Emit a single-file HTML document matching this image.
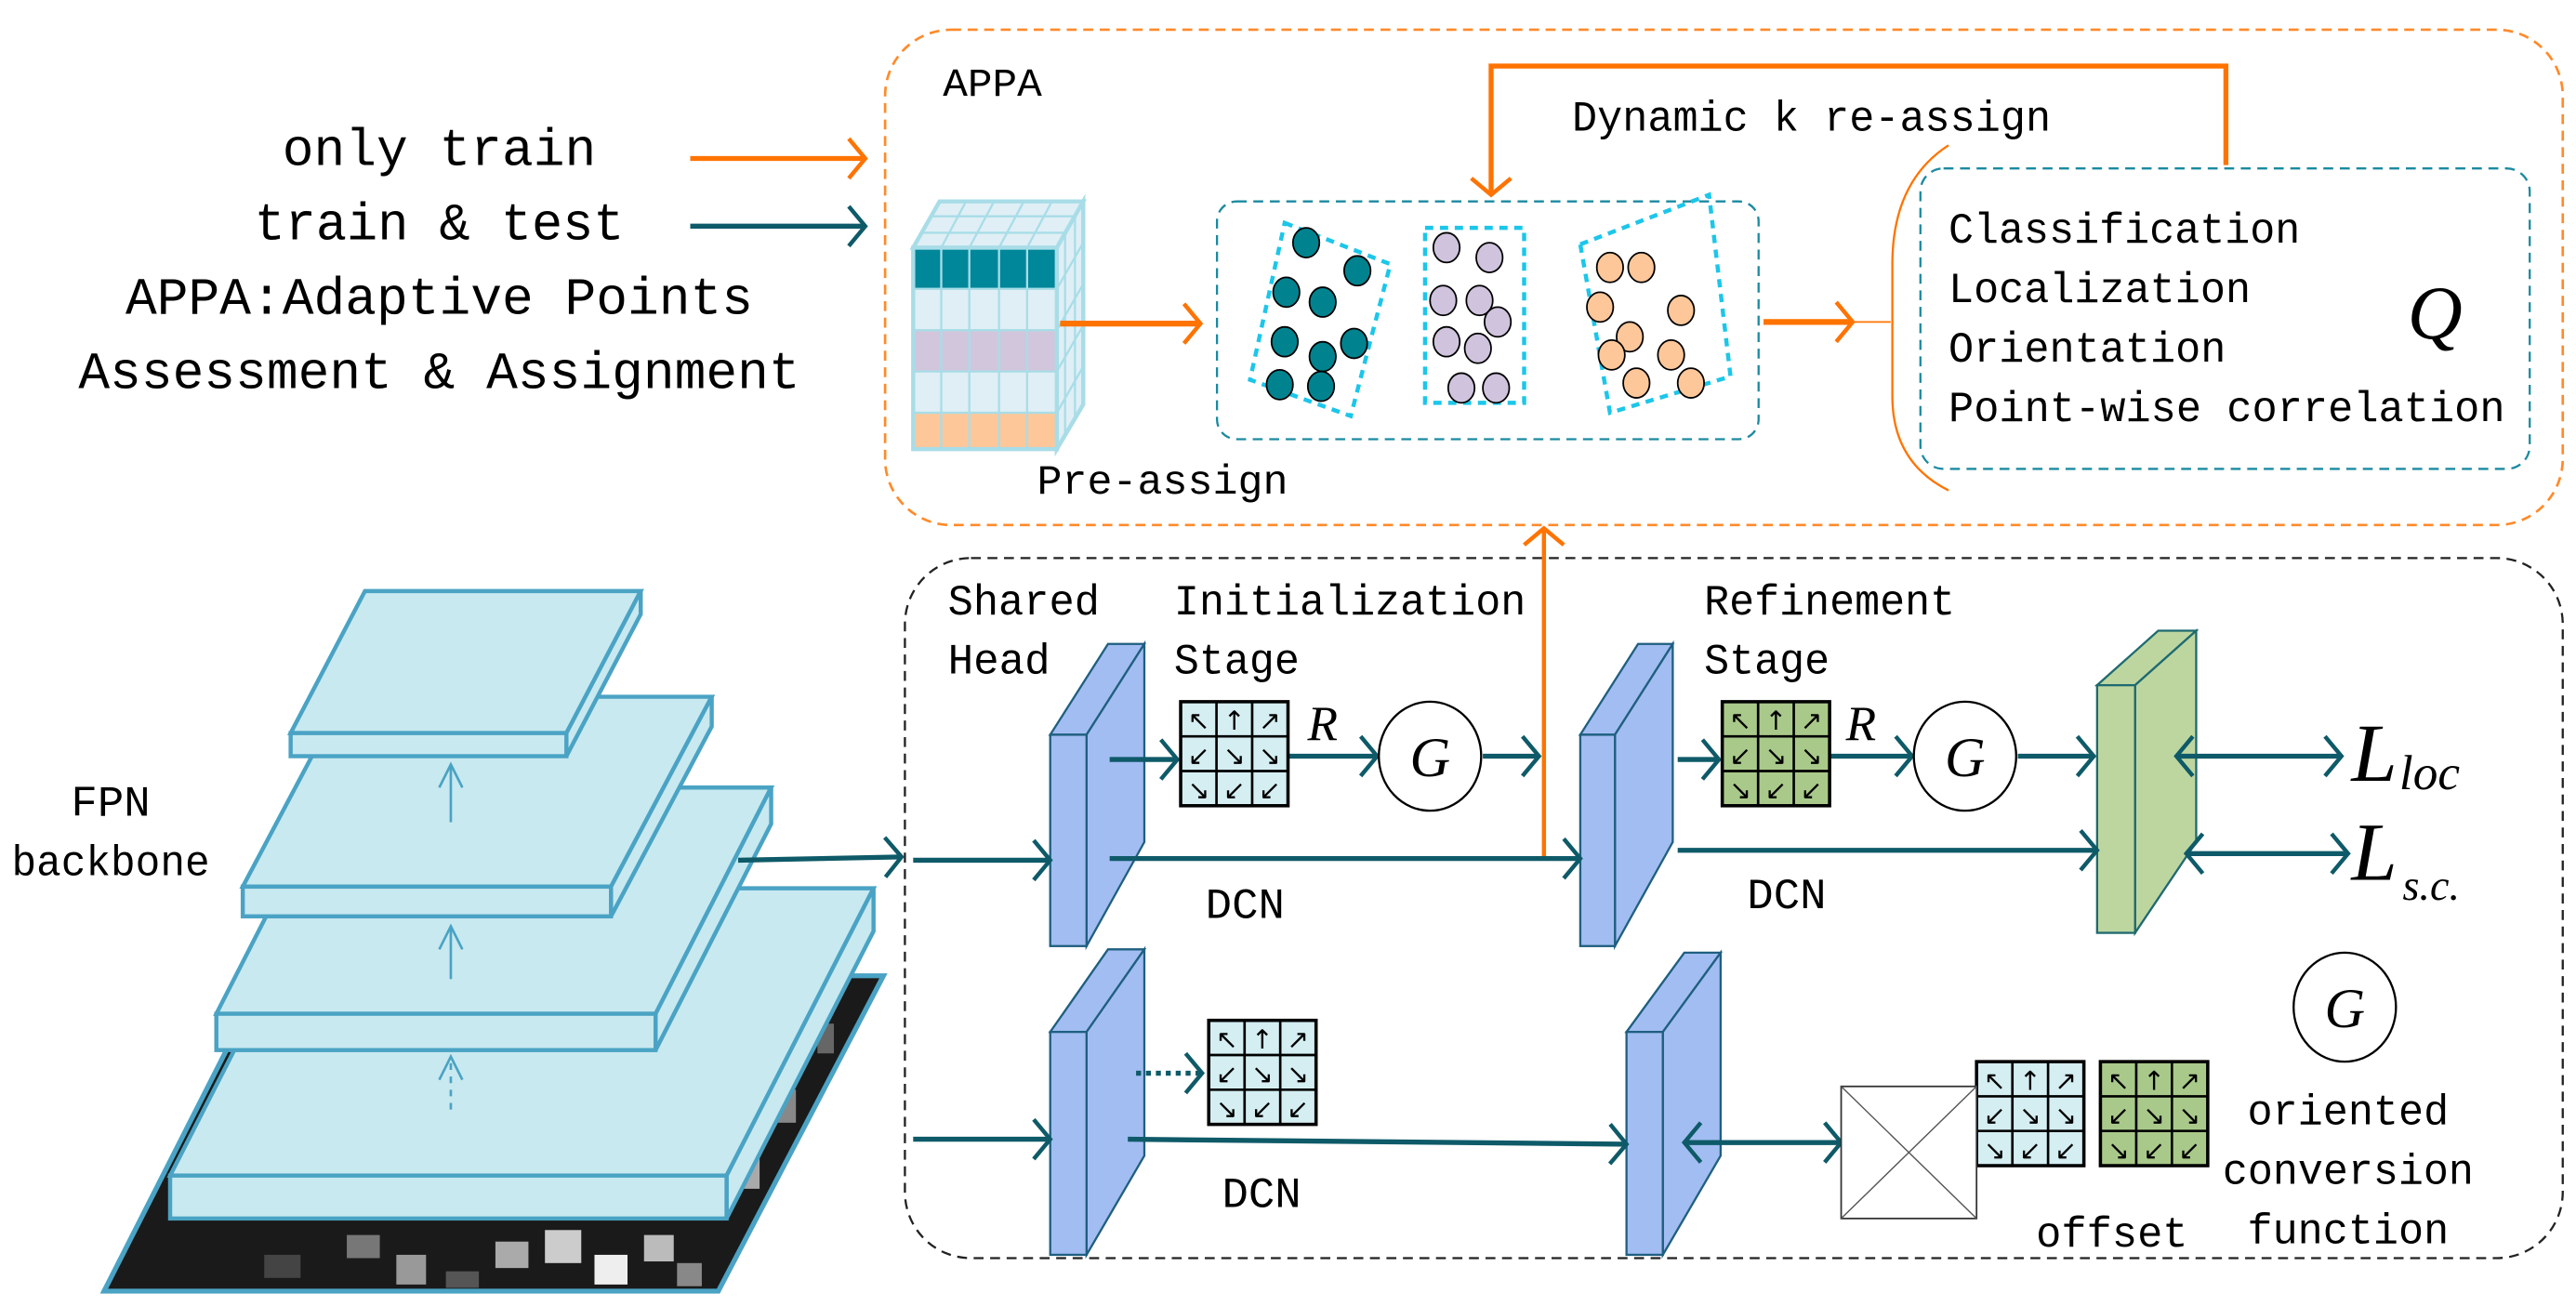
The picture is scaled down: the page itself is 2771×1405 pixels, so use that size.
<!DOCTYPE html>
<html><head><meta charset="utf-8"><style>
html,body{margin:0;padding:0;background:#fff}
svg{display:block}
text{font-family:"Liberation Mono",monospace;fill:#000}
</style></head><body>
<svg width="2771" height="1405" viewBox="0 0 1560 791" xmlns="http://www.w3.org/2000/svg">
<defs>
<marker id="ao" markerUnits="userSpaceOnUse" markerWidth="14" markerHeight="28" refX="12" refY="14" orient="auto"><path d="M2,2 L12,14 L2,26" fill="none" stroke="#ff7300" stroke-width="2.5"/></marker>
<marker id="at" markerUnits="userSpaceOnUse" markerWidth="14" markerHeight="28" refX="12" refY="14" orient="auto"><path d="M2,2 L12,14 L2,26" fill="none" stroke="#0e5a68" stroke-width="2.5"/></marker>
<marker id="ats" markerUnits="userSpaceOnUse" markerWidth="14" markerHeight="28" refX="2" refY="14" orient="auto"><path d="M12,2 L2,14 L12,26" fill="none" stroke="#0e5a68" stroke-width="2.5"/></marker>
<g id="gr">
<rect x="0" y="0" width="65" height="63" stroke="#000" stroke-width="2"/>
<path d="M21.7,0V63M43.3,0V63M0,21H65M0,42H65" stroke="#000" stroke-width="1.5"/>
<g font-family="DejaVu Sans" font-size="16" text-anchor="middle" fill="#000">
<text x="11" y="17" style="font-family:'DejaVu Sans'">↖</text><text x="32.5" y="17" style="font-family:'DejaVu Sans'">↑</text><text x="54" y="17" style="font-family:'DejaVu Sans'">↗</text>
<text x="11" y="38" style="font-family:'DejaVu Sans'">↙</text><text x="32.5" y="38" style="font-family:'DejaVu Sans'">↘</text><text x="54" y="38" style="font-family:'DejaVu Sans'">↘</text>
<text x="11" y="59" style="font-family:'DejaVu Sans'">↘</text><text x="32.5" y="59" style="font-family:'DejaVu Sans'">↙</text><text x="54" y="59" style="font-family:'DejaVu Sans'">↙</text>
</g></g>
</defs>

<!-- Left legend text -->
<g font-size="32" text-anchor="middle">
<text x="266" y="100" textLength="190" lengthAdjust="spacingAndGlyphs">only train</text>
<text x="266" y="145" textLength="224" lengthAdjust="spacingAndGlyphs">train &amp; test</text>
<text x="266" y="190" textLength="380" lengthAdjust="spacingAndGlyphs">APPA:Adaptive Points</text>
<text x="266" y="235" textLength="437" lengthAdjust="spacingAndGlyphs">Assessment &amp; Assignment</text>
</g>
<line x1="418" y1="96" x2="524" y2="96" stroke="#ff7300" stroke-width="3" marker-end="url(#ao)"/>
<line x1="418" y1="137" x2="524" y2="137" stroke="#0e5a68" stroke-width="3" marker-end="url(#at)"/>

<!-- APPA box -->
<rect x="536" y="18" width="1016" height="300" rx="40" fill="none" stroke="#ff8a2a" stroke-width="1.5" stroke-dasharray="6,4"/>
<text x="571" y="58" font-size="24" textLength="60" lengthAdjust="spacingAndGlyphs">APPA</text>

<!-- cube -->
<g stroke="#a8dde8" stroke-width="1.3">
<polygon points="553,150 640,150 656,122 569,122" fill="#e0eff5" stroke-width="2.5"/>
<polygon points="640,150 656,122 656,245 640,272" fill="#e0eff5" stroke-width="2.5"/>
<rect x="553" y="150" width="87" height="25" fill="#00879a"/>
<rect x="553" y="175" width="87" height="25" fill="#e0eff5"/>
<rect x="553" y="200" width="87" height="25" fill="#d2c6dc"/>
<rect x="553" y="225" width="87" height="25" fill="#e0eff5"/>
<rect x="553" y="250" width="87" height="22" fill="#fdc79a"/>
<path d="M570,150V272M587,150V272M605,150V272M622,150V272" />
<path d="M558,141H645M563,131H651M570,150L585,122M587,150L602,122M605,150L620,122M622,150L637,122"/>
<path d="M640,175L656,147M640,200L656,172M640,225L656,197M640,250L656,222M645,141V264M651,131V254"/>
<rect x="553" y="150" width="87" height="122" fill="none" stroke-width="2.5"/>
</g>
<line x1="642" y1="196" x2="727" y2="196" stroke="#ff7300" stroke-width="3.5" marker-end="url(#ao)"/>
<text x="628" y="299" font-size="25" textLength="152" lengthAdjust="spacingAndGlyphs">Pre-assign</text>

<!-- dots box -->
<rect x="737" y="122" width="328" height="144" rx="12" fill="none" stroke="#1b8aa0" stroke-width="1.3" stroke-dasharray="6,4"/>
<polygon points="778,135 842,160 818,252 757,230" fill="none" stroke="#1cc6ea" stroke-width="2.5" stroke-dasharray="5,4"/>
<rect x="863" y="138" width="60" height="106" fill="none" stroke="#1cc6ea" stroke-width="2.5" stroke-dasharray="5,4"/>
<polygon points="957,148 1035,118 1048,228 975,250" fill="none" stroke="#1cc6ea" stroke-width="2.5" stroke-dasharray="5,4"/>
<g fill="#00838f" stroke="#000" stroke-width="1">
<ellipse cx="791" cy="147" rx="8" ry="9"/><ellipse cx="822" cy="164" rx="8" ry="9"/><ellipse cx="779" cy="177" rx="8" ry="9"/><ellipse cx="801" cy="183" rx="8" ry="9"/><ellipse cx="778" cy="207" rx="8" ry="9"/><ellipse cx="820" cy="208" rx="8" ry="9"/><ellipse cx="801" cy="216" rx="8" ry="9"/><ellipse cx="775" cy="233" rx="8" ry="9"/><ellipse cx="800" cy="234" rx="8" ry="9"/>
</g>
<g fill="#cfc3dd" stroke="#000" stroke-width="1">
<ellipse cx="876" cy="150" rx="8" ry="9"/><ellipse cx="902" cy="156" rx="8" ry="9"/><ellipse cx="874" cy="182" rx="8" ry="9"/><ellipse cx="896" cy="182" rx="8" ry="9"/><ellipse cx="907" cy="195" rx="8" ry="9"/><ellipse cx="876" cy="207" rx="8" ry="9"/><ellipse cx="895" cy="211" rx="8" ry="9"/><ellipse cx="885" cy="235" rx="8" ry="9"/><ellipse cx="906" cy="235" rx="8" ry="9"/>
</g>
<g fill="#fdc79a" stroke="#000" stroke-width="1">
<ellipse cx="975" cy="162" rx="8" ry="9"/><ellipse cx="994" cy="162" rx="8" ry="9"/><ellipse cx="969" cy="186" rx="8" ry="9"/><ellipse cx="1018" cy="188" rx="8" ry="9"/><ellipse cx="987" cy="204" rx="8" ry="9"/><ellipse cx="976" cy="215" rx="8" ry="9"/><ellipse cx="1012" cy="215" rx="8" ry="9"/><ellipse cx="991" cy="232" rx="8" ry="9"/><ellipse cx="1024" cy="232" rx="8" ry="9"/>
</g>

<line x1="1068" y1="195" x2="1122" y2="195" stroke="#ff7300" stroke-width="3.5" marker-end="url(#ao)"/>
<line x1="1122" y1="195" x2="1145" y2="195" stroke="#ff7300" stroke-width="1"/>
<path d="M1180,88 Q1146,110 1146,160 V240 Q1146,280 1180,297" fill="none" stroke="#ff7300" stroke-width="1.3"/>
<rect x="1163" y="102" width="369" height="182" rx="14" fill="none" stroke="#1b8aa0" stroke-width="1.3" stroke-dasharray="6,4"/>
<g font-size="26">
<text x="1180" y="147" textLength="213" lengthAdjust="spacingAndGlyphs">Classification</text>
<text x="1180" y="183" textLength="183" lengthAdjust="spacingAndGlyphs">Localization</text>
<text x="1180" y="219" textLength="168" lengthAdjust="spacingAndGlyphs">Orientation</text>
<text x="1180" y="255" textLength="337" lengthAdjust="spacingAndGlyphs">Point-wise correlation</text>
</g>
<text x="1458" y="205" font-size="46" font-style="italic" style="font-family:'Liberation Serif',serif">Q</text>
<text x="952" y="79" font-size="26" textLength="290" lengthAdjust="spacingAndGlyphs">Dynamic k re-assign</text>
<polyline points="1348,100 1348,40 903,40 903,118" fill="none" stroke="#ff7300" stroke-width="3" marker-end="url(#ao)"/>

<!-- FPN -->
<polygon points="63,782 435,782 535,591 160,591" fill="#1a1a1a" stroke="#4aa3c4" stroke-width="3"/>
<g fill="#777">
<rect x="210" y="748" width="20" height="14"/><rect x="240" y="760" width="18" height="18" fill="#999"/><rect x="300" y="752" width="20" height="16" fill="#aaa"/><rect x="330" y="745" width="22" height="20" fill="#ccc"/><rect x="360" y="760" width="20" height="18" fill="#eee"/><rect x="390" y="748" width="18" height="16" fill="#bbb"/><rect x="410" y="765" width="15" height="14" fill="#888"/><rect x="270" y="770" width="20" height="10" fill="#555"/><rect x="160" y="760" width="22" height="14" fill="#444"/><rect x="445" y="700" width="15" height="20" fill="#aaa"/><rect x="470" y="660" width="12" height="20" fill="#888"/><rect x="495" y="620" width="10" height="18" fill="#666"/>
</g>
<g fill="#c8e9f0" stroke="#4aa3c4" stroke-width="2.5">
<polygon points="103,712 440,712 529,538 192,538"/>
<polygon points="440,712 529,538 529,564 440,738"/>
<rect x="103" y="712" width="337" height="26"/>
</g>
<line x1="273" y1="672" x2="273" y2="642" stroke="#4aa3c4" stroke-width="1.5" stroke-dasharray="4,4"/>
<path d="M266,654 L273,640 L280,654" fill="none" stroke="#4aa3c4" stroke-width="1.5"/>
<g fill="#c8e9f0" stroke="#4aa3c4" stroke-width="2.5">
<polygon points="131,614 397,614 467,477 201,477"/>
<polygon points="397,614 467,477 467,499 397,636"/>
<rect x="131" y="614" width="266" height="22"/>
</g>
<line x1="273" y1="593" x2="273" y2="561" stroke="#4aa3c4" stroke-width="1.5"/>
<path d="M266,575 L273,561 L280,575" fill="none" stroke="#4aa3c4" stroke-width="1.5"/>
<g fill="#c8e9f0" stroke="#4aa3c4" stroke-width="2.5">
<polygon points="147,537 370,537 431,422 208,422"/>
<polygon points="370,537 431,422 431,440 370,555"/>
<rect x="147" y="537" width="223" height="18"/>
</g>
<line x1="273" y1="498" x2="273" y2="463" stroke="#4aa3c4" stroke-width="1.5"/>
<path d="M266,477 L273,463 L280,477" fill="none" stroke="#4aa3c4" stroke-width="1.5"/>
<g fill="#c8e9f0" stroke="#4aa3c4" stroke-width="2.5">
<polygon points="176,444 343,444 388,358 221,358"/>
<polygon points="343,444 388,358 388,372 343,458"/>
<rect x="176" y="444" width="167" height="14"/>
</g>
<g font-size="26" text-anchor="middle">
<text x="67" y="494" textLength="48" lengthAdjust="spacingAndGlyphs">FPN</text>
<text x="67" y="530" textLength="120" lengthAdjust="spacingAndGlyphs">backbone</text>
</g>

<!-- Head box -->
<rect x="548" y="338" width="1004" height="424" rx="40" fill="none" stroke="#222" stroke-width="1.3" stroke-dasharray="6,4"/>
<line x1="935" y1="520" x2="935" y2="320" stroke="#ff7300" stroke-width="2.5" marker-end="url(#ao)"/>
<g font-size="26">
<text x="574" y="372" textLength="92" lengthAdjust="spacingAndGlyphs">Shared</text>
<text x="574" y="408" textLength="62" lengthAdjust="spacingAndGlyphs">Head</text>
<text x="711" y="372" textLength="213" lengthAdjust="spacingAndGlyphs">Initialization</text>
<text x="711" y="408" textLength="76" lengthAdjust="spacingAndGlyphs">Stage</text>
<text x="1032" y="372" textLength="152" lengthAdjust="spacingAndGlyphs">Refinement</text>
<text x="1032" y="408" textLength="76" lengthAdjust="spacingAndGlyphs">Stage</text>
<text x="730" y="556" textLength="48" lengthAdjust="spacingAndGlyphs">DCN</text>
<text x="1058" y="550" textLength="48" lengthAdjust="spacingAndGlyphs">DCN</text>
<text x="740" y="731" textLength="48" lengthAdjust="spacingAndGlyphs">DCN</text>
<text x="1233" y="755" textLength="92" lengthAdjust="spacingAndGlyphs">offset</text>
</g>
<g font-size="26" text-anchor="middle">
<text x="1422" y="681" textLength="122" lengthAdjust="spacingAndGlyphs">oriented</text>
<text x="1422" y="717" textLength="152" lengthAdjust="spacingAndGlyphs">conversion</text>
<text x="1422" y="753" textLength="122" lengthAdjust="spacingAndGlyphs">function</text>
</g>

<!-- slabs -->
<g stroke="#1f5f80" stroke-width="1.3" fill="#a2bdf2">
<polygon points="636,445 658,445 693,390 671,390"/><polygon points="658,445 693,390 693,510 658,573"/><rect x="636" y="445" width="22" height="128"/>
<polygon points="636,625 658,625 693,575 671,575"/><polygon points="658,625 693,575 693,700 658,760"/><rect x="636" y="625" width="22" height="135"/>
<polygon points="957,445 978,445 1013,390 992,390"/><polygon points="978,445 1013,390 1013,510 978,573"/><rect x="957" y="445" width="21" height="128"/>
<polygon points="985,625 1007,625 1042,577 1020,577"/><polygon points="1007,625 1042,577 1042,700 1007,760"/><rect x="985" y="625" width="22" height="135"/>
</g>
<g stroke="#1f6a70" stroke-width="1.3" fill="#bdd6a0">
<polygon points="1270,415 1293,415 1330,382 1307,382"/><polygon points="1293,415 1330,382 1330,510 1293,565"/><rect x="1270" y="415" width="23" height="150"/>
</g>

<!-- teal connectors -->
<g stroke="#0e5a68" stroke-width="3" fill="none">
<line x1="447" y1="521" x2="546" y2="519" marker-end="url(#at)"/>
<line x1="553" y1="521" x2="636" y2="521" marker-end="url(#at)"/>
<line x1="672" y1="460" x2="713" y2="460" marker-end="url(#at)"/>
<line x1="780" y1="458" x2="834" y2="458" marker-end="url(#at)"/>
<line x1="898" y1="458" x2="932" y2="458" marker-end="url(#at)"/>
<line x1="672" y1="520" x2="957" y2="520" marker-end="url(#at)"/>
<line x1="1016" y1="460" x2="1041" y2="460" marker-end="url(#at)"/>
<line x1="1108" y1="458" x2="1158" y2="458" marker-end="url(#at)"/>
<line x1="1222" y1="458" x2="1268" y2="458" marker-end="url(#at)"/>
<line x1="1016" y1="515" x2="1270" y2="515" marker-end="url(#at)"/>
<line x1="1318" y1="458" x2="1418" y2="458" marker-start="url(#ats)" marker-end="url(#at)"/>
<line x1="1324" y1="517" x2="1422" y2="517" marker-start="url(#ats)" marker-end="url(#at)"/>
<line x1="688" y1="650" x2="728" y2="650" stroke-dasharray="3,3" marker-end="url(#at)"/>
<line x1="553" y1="690" x2="636" y2="690" marker-end="url(#at)"/>
<line x1="683" y1="690" x2="985" y2="693" marker-end="url(#at)"/>
<line x1="1020" y1="692" x2="1115" y2="692" marker-start="url(#ats)" marker-end="url(#at)"/>
</g>

<!-- grids -->
<use href="#gr" x="715" y="425" fill="#d4eef2"/>
<use href="#gr" x="1043" y="425" fill="#a9c98a"/>
<use href="#gr" x="732" y="618" fill="#d4eef2"/>
<use href="#gr" x="1197" y="643" fill="#d4eef2"/>
<use href="#gr" x="1272" y="643" fill="#a9c98a"/>

<rect x="1115" y="658" width="82" height="80" fill="#fff" stroke="#333" stroke-width="1"/>
<path d="M1115,658 L1197,738 M1197,658 L1115,738" stroke="#555" stroke-width="0.8"/>

<!-- circles G and R -->
<g fill="#fff" stroke="#000" stroke-width="1.3">
<ellipse cx="866" cy="458" rx="31" ry="33"/><ellipse cx="1190" cy="458" rx="31" ry="33"/><ellipse cx="1420" cy="610" rx="31" ry="33"/>
</g>
<g font-size="34" font-style="italic" text-anchor="middle" style="font-family:'Liberation Serif',serif">
<text x="866" y="470" style="font-family:'Liberation Serif',serif">G</text>
<text x="1190" y="470" style="font-family:'Liberation Serif',serif">G</text>
<text x="1420" y="622" style="font-family:'Liberation Serif',serif">G</text>
<text x="801" y="448" font-size="30" style="font-family:'Liberation Serif',serif">R</text>
<text x="1127" y="448" font-size="30" style="font-family:'Liberation Serif',serif">R</text>
</g>
<g font-style="italic" style="font-family:'Liberation Serif',serif">
<text x="1424" y="473" font-size="50" style="font-family:'Liberation Serif',serif">L</text>
<text x="1453" y="478" font-size="30" style="font-family:'Liberation Serif',serif">loc</text>
<text x="1424" y="533" font-size="50" style="font-family:'Liberation Serif',serif">L</text>
<text x="1455" y="545" font-size="26" style="font-family:'Liberation Serif',serif">s.c.</text>
</g>
</svg>
</body></html>
